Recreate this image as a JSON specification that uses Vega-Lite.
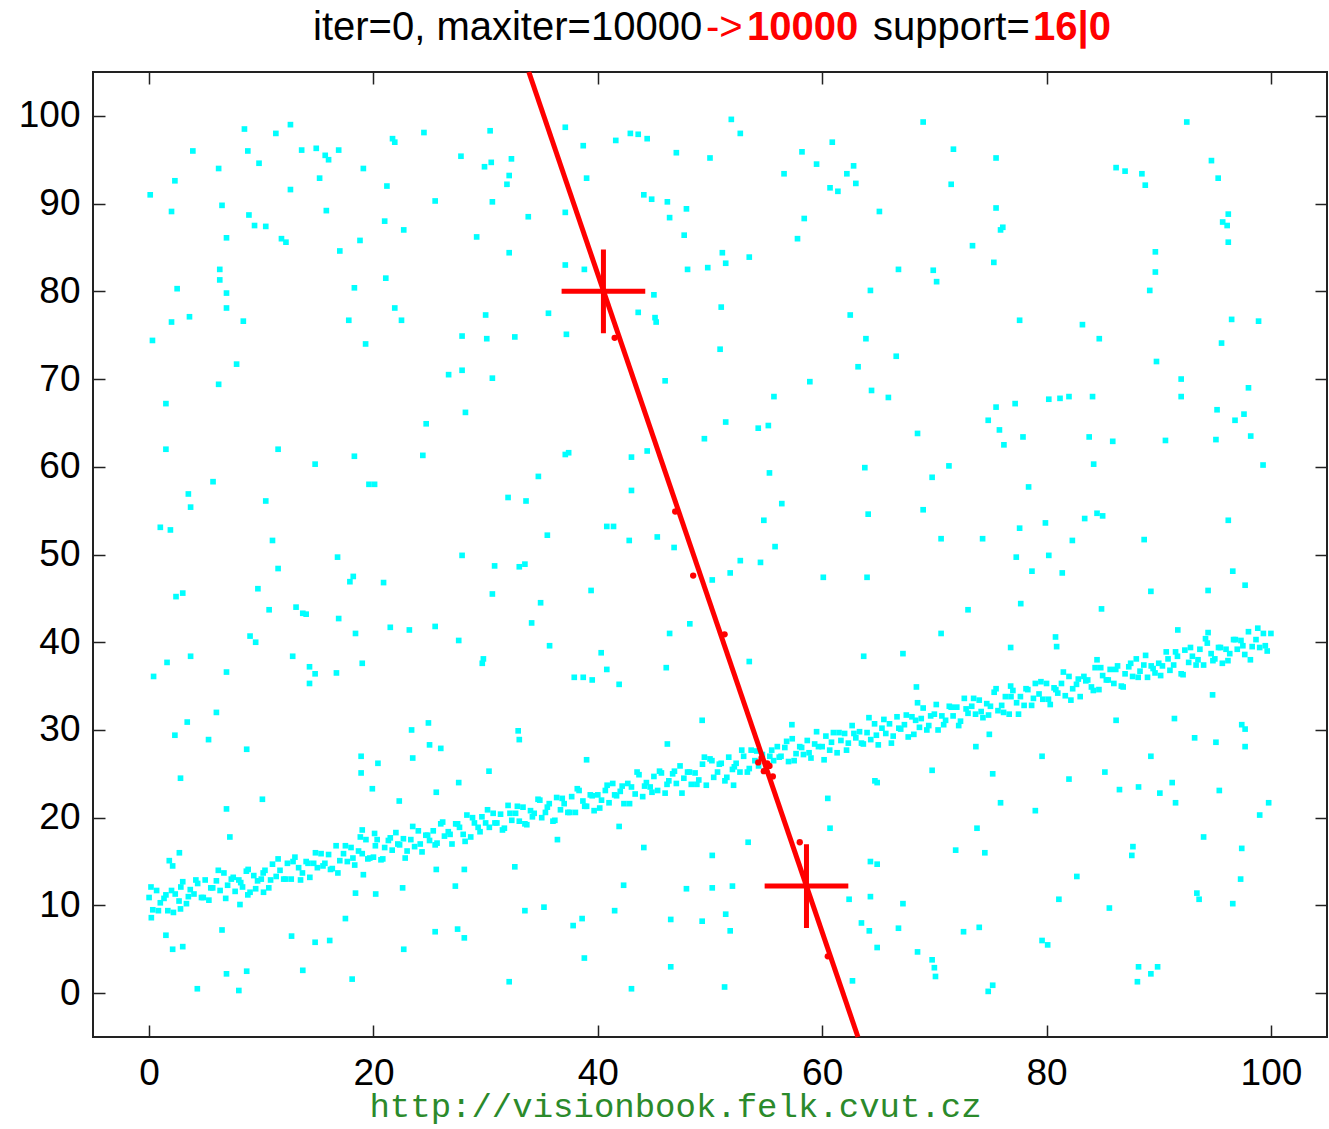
{
"$schema": "https://vega.github.io/schema/vega-lite/v6.json",
"width": 1234, "height": 965,
"autosize": {"type": "none"},
"padding": {"left": 93, "top": 72, "right": 2, "bottom": 92},
"background": "white",
"config": {"view": {"stroke": "#222", "strokeWidth": 2}},
"resolve": {"axis": {"x": "independent", "y": "independent"}},
"datasets": {
"pts": [
{"x":0,"y":10.9},{"x":0.33,"y":9.5},{"x":0.67,"y":11.7},{"x":1,"y":10.3},{"x":1.33,"y":10.8},{"x":1.67,"y":9.4},{"x":2,"y":11.7},{"x":2.33,"y":11.3},{"x":2.67,"y":10.5},{"x":3,"y":12.7},{"x":3.33,"y":10.2},{"x":3.67,"y":11.8},{"x":4,"y":11.3},{"x":4.33,"y":12.5},{"x":4.67,"y":10.9},{"x":5,"y":12.9},{"x":5.33,"y":10.6},{"x":5.67,"y":12.0},{"x":6,"y":12.8},{"x":6.33,"y":11.7},{"x":6.67,"y":13.7},{"x":7,"y":12.3},{"x":7.33,"y":13.0},{"x":7.67,"y":11.6},{"x":8,"y":12.9},{"x":8.33,"y":12.1},{"x":8.67,"y":13.9},{"x":9,"y":11.5},{"x":9.33,"y":13.4},{"x":9.67,"y":12.8},
{"x":10,"y":13.0},{"x":10.33,"y":14.0},{"x":10.67,"y":12.0},{"x":11,"y":14.7},{"x":11.33,"y":13.3},{"x":11.67,"y":14.0},{"x":12,"y":13.0},{"x":12.33,"y":14.8},{"x":12.67,"y":13.0},{"x":13,"y":15.5},{"x":13.33,"y":14.3},{"x":13.67,"y":13.7},{"x":14,"y":15.0},{"x":14.33,"y":13.2},{"x":14.67,"y":14.8},{"x":15,"y":14.3},{"x":15.33,"y":15.9},{"x":15.67,"y":14.8},{"x":16,"y":15.8},{"x":16.33,"y":14.2},{"x":16.67,"y":16.8},{"x":17,"y":15.1},{"x":17.33,"y":15.9},{"x":17.67,"y":15.0},{"x":18,"y":16.6},{"x":18.33,"y":14.6},{"x":18.67,"y":16.2},{"x":19,"y":15.9},{"x":19.33,"y":17.5},{"x":19.67,"y":15.4},
{"x":20,"y":15.5},{"x":20.33,"y":17.5},{"x":20.67,"y":15.2},{"x":21,"y":16.6},{"x":21.33,"y":17.4},{"x":21.67,"y":16.3},{"x":22,"y":18.3},{"x":22.33,"y":16.9},{"x":22.67,"y":17.6},{"x":23,"y":16.2},{"x":23.33,"y":17.5},{"x":23.67,"y":16.7},{"x":24,"y":18.5},{"x":24.33,"y":16.1},{"x":24.67,"y":18.0},{"x":25,"y":17.4},{"x":25.33,"y":18.5},{"x":25.67,"y":17.1},{"x":26,"y":19.3},{"x":26.33,"y":17.9},{"x":26.67,"y":18.4},{"x":27,"y":17.0},{"x":27.33,"y":19.3},{"x":27.67,"y":18.9},{"x":28,"y":18.1},{"x":28.33,"y":20.3},{"x":28.67,"y":17.8},{"x":29,"y":19.4},{"x":29.33,"y":18.9},{"x":29.67,"y":20.1},
{"x":30,"y":19.4},{"x":30.33,"y":18.9},{"x":30.67,"y":20.5},{"x":31,"y":19.4},{"x":31.33,"y":20.4},{"x":31.67,"y":18.8},{"x":32,"y":21.4},{"x":32.33,"y":19.7},{"x":32.67,"y":20.5},{"x":33,"y":19.6},{"x":33.33,"y":21.2},{"x":33.67,"y":19.2},{"x":34,"y":20.8},{"x":34.33,"y":20.5},{"x":34.67,"y":22.1},{"x":35,"y":20.0},{"x":35.33,"y":20.6},{"x":35.67,"y":21.6},{"x":36,"y":19.6},{"x":36.33,"y":22.3},{"x":36.67,"y":20.9},{"x":37,"y":21.6},{"x":37.33,"y":20.6},{"x":37.67,"y":22.4},{"x":38,"y":20.6},{"x":38.33,"y":23.1},{"x":38.67,"y":21.9},{"x":39,"y":21.3},{"x":39.33,"y":22.6},{"x":39.67,"y":20.8},
{"x":40,"y":22.6},{"x":40.33,"y":22.0},{"x":40.67,"y":23.1},{"x":41,"y":21.7},{"x":41.33,"y":23.9},{"x":41.67,"y":22.5},{"x":42,"y":23.0},{"x":42.33,"y":21.6},{"x":42.67,"y":23.9},{"x":43,"y":23.5},{"x":43.33,"y":22.7},{"x":43.67,"y":24.9},{"x":44,"y":22.4},{"x":44.33,"y":24.0},{"x":44.67,"y":23.5},{"x":45,"y":24.7},{"x":45.33,"y":23.1},{"x":45.67,"y":25.1},{"x":46,"y":22.8},{"x":46.33,"y":24.2},{"x":46.67,"y":25.0},{"x":47,"y":23.9},{"x":47.33,"y":25.9},{"x":47.67,"y":24.5},{"x":48,"y":25.2},{"x":48.33,"y":23.8},{"x":48.67,"y":25.1},{"x":49,"y":24.3},{"x":49.33,"y":26.1},{"x":49.67,"y":23.7},
{"x":50,"y":26.7},{"x":50.33,"y":24.6},{"x":50.67,"y":25.2},{"x":51,"y":26.2},{"x":51.33,"y":24.2},{"x":51.67,"y":26.9},{"x":52,"y":25.5},{"x":52.33,"y":26.2},{"x":52.67,"y":25.2},{"x":53,"y":27.0},{"x":53.33,"y":25.2},{"x":53.67,"y":27.7},{"x":54,"y":26.5},{"x":54.33,"y":25.9},{"x":54.67,"y":27.2},{"x":55,"y":25.4},{"x":55.33,"y":27.0},{"x":55.67,"y":26.5},{"x":56,"y":28.1},{"x":56.33,"y":27.0},{"x":56.67,"y":28.0},{"x":57,"y":26.4},{"x":57.33,"y":29.0},{"x":57.67,"y":27.3},{"x":58,"y":28.1},{"x":58.33,"y":27.2},{"x":58.67,"y":28.8},{"x":59,"y":26.8},{"x":59.33,"y":28.4},{"x":59.67,"y":28.1},
{"x":60,"y":28.1},{"x":60.33,"y":29.3},{"x":60.67,"y":27.7},{"x":61,"y":29.7},{"x":61.33,"y":27.4},{"x":61.67,"y":28.8},{"x":62,"y":29.6},{"x":62.33,"y":28.5},{"x":62.67,"y":30.5},{"x":63,"y":29.1},{"x":63.33,"y":29.8},{"x":63.67,"y":28.4},{"x":64,"y":29.7},{"x":64.33,"y":28.9},{"x":64.67,"y":30.7},{"x":65,"y":28.3},{"x":65.33,"y":30.2},{"x":65.67,"y":29.6},{"x":66,"y":30.7},{"x":66.33,"y":29.3},{"x":66.67,"y":31.5},{"x":67,"y":30.1},{"x":67.33,"y":30.6},{"x":67.67,"y":29.2},{"x":68,"y":31.5},{"x":68.33,"y":31.1},{"x":68.67,"y":30.3},{"x":69,"y":32.5},{"x":69.33,"y":30.0},{"x":69.67,"y":31.6},
{"x":70,"y":31.8},{"x":70.33,"y":30.0},{"x":70.67,"y":31.6},{"x":71,"y":31.1},{"x":71.33,"y":32.7},{"x":71.67,"y":31.6},{"x":72,"y":32.6},{"x":72.33,"y":31.0},{"x":72.67,"y":33.6},{"x":73,"y":31.9},{"x":73.33,"y":32.7},{"x":73.67,"y":31.8},{"x":74,"y":33.4},{"x":74.33,"y":31.4},{"x":74.67,"y":33.0},{"x":75,"y":32.7},{"x":75.33,"y":34.3},{"x":75.67,"y":32.2},{"x":76,"y":32.8},{"x":76.33,"y":33.8},{"x":76.67,"y":31.8},{"x":77,"y":34.5},{"x":77.33,"y":33.1},{"x":77.67,"y":33.8},{"x":78,"y":32.8},{"x":78.33,"y":34.6},{"x":78.67,"y":32.8},{"x":79,"y":35.3},{"x":79.33,"y":34.1},{"x":79.67,"y":33.5},
{"x":80,"y":35.3},{"x":80.33,"y":32.9},{"x":80.67,"y":34.8},{"x":81,"y":34.2},{"x":81.33,"y":35.3},{"x":81.67,"y":33.9},{"x":82,"y":36.1},{"x":82.33,"y":34.7},{"x":82.67,"y":35.2},{"x":83,"y":33.8},{"x":83.33,"y":36.1},{"x":83.67,"y":35.7},{"x":84,"y":34.9},{"x":84.33,"y":37.1},{"x":84.67,"y":34.6},{"x":85,"y":36.2},{"x":85.33,"y":35.7},{"x":85.67,"y":36.9},{"x":86,"y":35.3},{"x":86.33,"y":37.3},{"x":86.67,"y":35.0},{"x":87,"y":36.4},{"x":87.33,"y":37.2},{"x":87.67,"y":36.1},{"x":88,"y":38.1},{"x":88.33,"y":36.7},{"x":88.67,"y":37.4},{"x":89,"y":36.0},{"x":89.33,"y":37.3},{"x":89.67,"y":36.5},
{"x":90,"y":37.6},{"x":90.33,"y":37.3},{"x":90.67,"y":38.9},{"x":91,"y":36.8},{"x":91.33,"y":37.4},{"x":91.67,"y":38.4},{"x":92,"y":36.4},{"x":92.33,"y":39.1},{"x":92.67,"y":37.7},{"x":93,"y":38.4},{"x":93.33,"y":37.4},{"x":93.67,"y":39.2},{"x":94,"y":37.4},{"x":94.33,"y":39.9},{"x":94.67,"y":38.7},{"x":95,"y":38.1},{"x":95.33,"y":39.4},{"x":95.67,"y":37.6},{"x":96,"y":39.2},{"x":96.33,"y":38.7},{"x":96.67,"y":40.3},{"x":97,"y":39.2},{"x":97.33,"y":40.2},{"x":97.67,"y":38.6},{"x":98,"y":41.2},{"x":98.33,"y":39.5},{"x":98.67,"y":40.3},{"x":99,"y":39.4},{"x":99.33,"y":41.0},{"x":99.67,"y":39.0},{"x":100,"y":41.0},
{"x":0.17,"y":12.1},{"x":0.83,"y":9.4},{"x":1.5,"y":11.2},{"x":2.17,"y":9.2},{"x":2.83,"y":12.1},{"x":3.5,"y":11.0},{"x":4.17,"y":12.9},{"x":4.83,"y":10.9},{"x":5.5,"y":12.0},{"x":6.17,"y":14.0},{"x":6.83,"y":10.8},{"x":7.5,"y":13.2},{"x":8.17,"y":12.6},{"x":8.83,"y":14.1},{"x":9.5,"y":11.9},{"x":10.17,"y":13.7},{"x":10.83,"y":12.9},{"x":11.5,"y":15.3},{"x":12.17,"y":13.0},{"x":12.83,"y":15.0},{"x":13.5,"y":12.9},{"x":14.17,"y":14.8},{"x":14.83,"y":16.0},{"x":15.5,"y":14.5},{"x":16.17,"y":14.1},
{"x":16.83,"y":13.7},{"x":17.5,"y":16.8},{"x":18.17,"y":15.4},{"x":18.83,"y":17.8},{"x":19.5,"y":15.3},{"x":20.17,"y":16.8},{"x":20.83,"y":15.3},{"x":21.5,"y":17.7},{"x":22.17,"y":17.0},{"x":22.83,"y":15.4},{"x":23.5,"y":19.0},{"x":24.17,"y":17.0},{"x":24.83,"y":18.0},{"x":25.5,"y":16.9},{"x":26.17,"y":19.5},{"x":26.83,"y":18.1},{"x":27.5,"y":19.3},{"x":28.17,"y":17.3},{"x":28.83,"y":20.0},{"x":29.5,"y":18.4},{"x":30.17,"y":20.9},{"x":30.83,"y":19.4},{"x":31.5,"y":18.6},{"x":32.17,"y":20.5},{"x":32.83,"y":21.3},
{"x":33.5,"y":19.3},{"x":34.17,"y":20.1},{"x":34.83,"y":22.0},{"x":35.5,"y":21.2},{"x":36.17,"y":19.7},{"x":36.83,"y":22.2},{"x":37.5,"y":20.6},{"x":38.17,"y":23.3},{"x":38.83,"y":21.3},{"x":39.5,"y":22.5},{"x":40.17,"y":21.1},{"x":40.83,"y":23.7},{"x":41.5,"y":22.6},{"x":42.17,"y":23.6},{"x":42.83,"y":21.6},{"x":43.5,"y":25.2},{"x":44.17,"y":23.6},{"x":44.83,"y":22.9},{"x":45.5,"y":25.3},{"x":46.17,"y":23.8},{"x":46.83,"y":25.3},{"x":47.5,"y":22.8},{"x":48.17,"y":25.2},{"x":48.83,"y":23.8},{"x":49.5,"y":26.9},
{"x":50.17,"y":26.5},{"x":50.83,"y":26.1},{"x":51.5,"y":24.6},{"x":52.17,"y":25.8},{"x":52.83,"y":27.7},{"x":53.5,"y":25.6},{"x":54.17,"y":27.6},{"x":54.83,"y":25.3},{"x":55.5,"y":27.7},{"x":56.17,"y":26.9},{"x":56.83,"y":28.7},{"x":57.5,"y":26.5},{"x":58.17,"y":28.0},{"x":58.83,"y":27.4},{"x":59.5,"y":29.8},{"x":60.17,"y":26.6},{"x":60.83,"y":28.6},{"x":61.5,"y":29.7},{"x":62.17,"y":27.7},{"x":62.83,"y":29.6},{"x":63.5,"y":28.5},{"x":64.17,"y":31.4},{"x":64.83,"y":29.4},{"x":65.5,"y":31.2},{"x":66.17,"y":28.5},
{"x":66.83,"y":30.2},{"x":67.5,"y":31.7},{"x":68.17,"y":29.5},{"x":68.83,"y":31.3},{"x":69.5,"y":30.5},{"x":70.17,"y":32.9},{"x":70.83,"y":30.6},{"x":71.5,"y":32.6},{"x":72.17,"y":30.5},{"x":72.83,"y":32.4},{"x":73.5,"y":33.6},{"x":74.17,"y":32.1},{"x":74.83,"y":31.7},{"x":75.5,"y":34.7},{"x":76.17,"y":32.0},{"x":76.83,"y":33.8},{"x":77.5,"y":31.8},{"x":78.17,"y":34.7},{"x":78.83,"y":33.6},{"x":79.5,"y":35.5},{"x":80.17,"y":33.5},{"x":80.83,"y":34.6},{"x":81.5,"y":36.6},{"x":82.17,"y":33.4},{"x":82.83,"y":35.8},
{"x":83.5,"y":35.6},{"x":84.17,"y":34.5},{"x":84.83,"y":37.1},{"x":85.5,"y":35.7},{"x":86.17,"y":36.9},{"x":86.83,"y":34.9},{"x":87.5,"y":37.6},{"x":88.17,"y":36.0},{"x":88.83,"y":38.5},{"x":89.5,"y":37.0},{"x":90.17,"y":36.2},{"x":90.83,"y":38.1},{"x":91.5,"y":38.9},{"x":92.17,"y":36.3},{"x":92.83,"y":39.4},{"x":93.5,"y":38.0},{"x":94.17,"y":40.4},{"x":94.83,"y":37.9},{"x":95.5,"y":39.4},{"x":96.17,"y":37.9},{"x":96.83,"y":40.3},{"x":97.5,"y":39.6},{"x":98.17,"y":38.0},{"x":98.83,"y":41.6},{"x":99.5,"y":39.6},
{"x":8.5,"y":98.5},{"x":11.3,"y":98.0},{"x":12.6,"y":99.0},{"x":3.9,"y":96.0},{"x":8.8,"y":96.0},{"x":9.8,"y":94.6},{"x":13.6,"y":96.1},{"x":14.9,"y":96.3},{"x":15.7,"y":95.5},{"x":16.0,"y":95.0},{"x":16.9,"y":96.1},{"x":21.7,"y":97.4},{"x":21.9,"y":97.0},{"x":6.2,"y":94.0},{"x":19.1,"y":94.0},{"x":2.3,"y":92.6},{"x":15.2,"y":92.9},{"x":12.6,"y":91.6},{"x":21.2,"y":92.0},{"x":0.1,"y":91.0},{"x":2.0,"y":89.1},{"x":6.5,"y":89.8},{"x":8.9,"y":88.7},{"x":9.4,"y":87.5},{"x":10.4,"y":87.4},{"x":15.8,"y":89.2},{"x":6.9,"y":86.1},{"x":11.8,"y":86.0},{"x":12.2,"y":85.6},{"x":21.0,"y":88.0},{"x":18.8,"y":85.8},{"x":17.0,"y":84.6},{"x":22.7,"y":87.0},{"x":6.3,"y":82.5},{"x":6.3,"y":81.3},{"x":6.9,"y":79.8},{"x":6.9,"y":78.1},{"x":2.5,"y":80.3},{"x":3.6,"y":77.1},{"x":2.0,"y":76.5},{"x":8.4,"y":76.6},{"x":0.3,"y":74.4},{"x":7.8,"y":71.7},{"x":6.2,"y":69.4},{"x":18.3,"y":80.4},{"x":21.1,"y":81.5},{"x":21.9,"y":78.1},{"x":22.5,"y":76.7},{"x":17.8,"y":76.7},{"x":19.3,"y":74.0},
{"x":24.5,"y":98.1},{"x":30.4,"y":98.3},{"x":27.8,"y":95.4},{"x":29.9,"y":94.2},{"x":30.5,"y":94.7},{"x":32.3,"y":95.1},{"x":32.1,"y":93.2},{"x":31.9,"y":92.2},{"x":25.5,"y":90.3},{"x":30.6,"y":90.2},{"x":33.8,"y":88.5},{"x":29.2,"y":86.2},{"x":32.1,"y":84.4},{"x":37.1,"y":98.7},{"x":38.7,"y":96.6},{"x":39.0,"y":92.9},{"x":37.1,"y":89.0},{"x":37.1,"y":83.0},{"x":38.8,"y":82.5},{"x":41.6,"y":97.2},{"x":42.9,"y":98.0},{"x":43.6,"y":97.9},{"x":44.4,"y":97.4},{"x":47.0,"y":95.8},{"x":50.0,"y":95.2},{"x":44.1,"y":91.0},{"x":44.8,"y":90.5},{"x":46.2,"y":90.2},{"x":47.9,"y":89.4},{"x":46.4,"y":88.4},{"x":47.7,"y":86.4},{"x":48.0,"y":82.5},{"x":49.8,"y":82.7},{"x":45.0,"y":79.6},{"x":43.6,"y":77.6},{"x":45.1,"y":77.0},{"x":45.2,"y":76.5},{"x":30.0,"y":77.3},{"x":35.6,"y":77.5},{"x":27.9,"y":74.9},{"x":30.1,"y":74.6},{"x":32.6,"y":74.8},{"x":37.2,"y":75.1},{"x":26.7,"y":70.5},{"x":27.9,"y":71.0},{"x":30.6,"y":70.1},{"x":46.0,"y":69.8},
{"x":51.9,"y":99.6},{"x":52.7,"y":98.0},{"x":58.2,"y":95.9},{"x":60.9,"y":97.0},{"x":59.5,"y":94.5},{"x":56.6,"y":93.4},{"x":62.8,"y":94.3},{"x":62.2,"y":93.4},{"x":63.0,"y":92.3},{"x":60.7,"y":91.8},{"x":61.4,"y":91.4},{"x":69.0,"y":99.3},{"x":71.7,"y":96.2},{"x":75.5,"y":95.2},{"x":71.5,"y":92.2},{"x":65.1,"y":89.1},{"x":58.4,"y":88.3},{"x":57.8,"y":86.0},{"x":75.5,"y":89.5},{"x":76.1,"y":87.3},{"x":75.9,"y":87.0},{"x":73.4,"y":85.2},{"x":75.3,"y":83.3},{"x":51.1,"y":84.4},{"x":51.4,"y":83.2},{"x":53.5,"y":83.9},{"x":66.8,"y":82.5},{"x":69.9,"y":82.4},{"x":70.2,"y":81.1},{"x":64.3,"y":80.1},{"x":51.0,"y":78.2},{"x":62.5,"y":77.3},{"x":63.9,"y":74.6},{"x":66.6,"y":72.6},{"x":63.2,"y":71.4},{"x":50.9,"y":73.4},{"x":58.9,"y":69.7},{"x":77.6,"y":76.7},{"x":64.4,"y":68.7},
{"x":92.5,"y":99.3},{"x":94.7,"y":94.9},{"x":95.3,"y":92.9},{"x":86.2,"y":94.1},{"x":87.0,"y":93.7},{"x":88.5,"y":93.4},{"x":88.8,"y":92.1},{"x":96.2,"y":88.8},{"x":95.7,"y":87.9},{"x":96.1,"y":87.5},{"x":96.2,"y":85.6},{"x":89.7,"y":84.5},{"x":89.7,"y":82.2},{"x":89.2,"y":80.1},{"x":83.2,"y":76.2},{"x":84.7,"y":74.6},{"x":96.5,"y":76.8},{"x":98.9,"y":76.6},{"x":95.6,"y":74.1},{"x":89.8,"y":72.0},{"x":92.0,"y":70.0},{"x":98.0,"y":69.0},
{"x":1.5,"y":67.2},{"x":1.5,"y":62.0},{"x":11.5,"y":62.0},{"x":14.8,"y":60.3},{"x":18.3,"y":61.2},{"x":19.6,"y":58.0},{"x":20.1,"y":58.0},{"x":5.7,"y":58.3},{"x":3.5,"y":56.9},{"x":3.7,"y":55.4},{"x":10.4,"y":56.1},{"x":1.0,"y":53.1},{"x":1.9,"y":52.8},{"x":11.0,"y":51.6},{"x":16.8,"y":49.7},{"x":11.5,"y":48.4},{"x":18.2,"y":47.5},{"x":17.9,"y":46.9},{"x":20.9,"y":46.8},{"x":9.7,"y":46.1},{"x":2.4,"y":45.2},{"x":3.0,"y":45.6},{"x":10.7,"y":43.7},{"x":13.1,"y":44.0},{"x":13.7,"y":43.3},{"x":14.0,"y":43.2},{"x":16.9,"y":42.7},{"x":21.5,"y":41.7},{"x":18.4,"y":41.0},{"x":9.0,"y":40.7},{"x":9.5,"y":40.0},{"x":1.6,"y":37.7},{"x":3.7,"y":38.4},{"x":0.4,"y":36.1},{"x":6.9,"y":36.6},{"x":12.8,"y":38.4},{"x":14.3,"y":37.2},{"x":14.8,"y":36.4},{"x":14.3,"y":35.3},{"x":16.7,"y":36.5},{"x":19.0,"y":37.6},{"x":6.0,"y":32.0},
{"x":24.7,"y":64.9},{"x":28.2,"y":66.2},{"x":24.4,"y":61.3},{"x":37.1,"y":61.4},{"x":37.4,"y":61.6},{"x":43.0,"y":61.1},{"x":44.4,"y":61.8},{"x":34.7,"y":58.9},{"x":43.0,"y":57.3},{"x":32.0,"y":56.5},{"x":33.6,"y":56.1},{"x":49.5,"y":63.2},{"x":40.8,"y":53.2},{"x":41.4,"y":53.2},{"x":35.5,"y":52.2},{"x":42.8,"y":51.6},{"x":45.3,"y":52.0},{"x":46.8,"y":50.8},{"x":50.2,"y":47.1},{"x":27.9,"y":49.9},{"x":30.8,"y":48.7},{"x":33.0,"y":48.6},{"x":33.5,"y":48.9},{"x":39.4,"y":45.9},{"x":30.6,"y":45.5},{"x":34.9,"y":44.5},{"x":34.1,"y":42.2},{"x":23.2,"y":41.4},{"x":25.5,"y":41.8},{"x":27.6,"y":40.2},{"x":35.7,"y":39.6},{"x":29.8,"y":38.1},{"x":29.7,"y":37.6},{"x":40.3,"y":38.8},{"x":40.8,"y":36.9},{"x":37.9,"y":36.0},{"x":38.7,"y":36.0},{"x":39.5,"y":35.7},{"x":41.9,"y":35.2},{"x":46.4,"y":41.0},{"x":48.2,"y":42.1},{"x":46.1,"y":37.1},
{"x":55.7,"y":68.0},{"x":65.9,"y":67.9},{"x":51.4,"y":65.1},{"x":54.3,"y":64.4},{"x":55.2,"y":64.7},{"x":68.5,"y":63.8},{"x":75.5,"y":66.8},{"x":77.2,"y":67.2},{"x":74.8,"y":65.3},{"x":75.8,"y":64.2},{"x":76.2,"y":62.5},{"x":77.9,"y":63.4},{"x":55.3,"y":59.3},{"x":63.8,"y":59.9},{"x":71.3,"y":60.1},{"x":69.8,"y":58.8},{"x":56.4,"y":55.8},{"x":54.8,"y":53.9},{"x":64.1,"y":54.6},{"x":69.0,"y":55.1},{"x":77.6,"y":53.0},{"x":70.6,"y":51.8},{"x":74.3,"y":51.8},{"x":77.3,"y":49.7},{"x":55.8,"y":50.9},{"x":52.7,"y":49.3},{"x":54.5,"y":49.1},{"x":51.8,"y":47.9},{"x":60.1,"y":47.4},{"x":64.0,"y":47.4},{"x":77.7,"y":44.4},{"x":73.0,"y":43.7},{"x":70.6,"y":41.0},{"x":76.8,"y":39.4},{"x":53.5,"y":37.8},{"x":63.7,"y":38.4},{"x":67.2,"y":38.7},{"x":68.4,"y":34.9},{"x":76.8,"y":35.0},{"x":68.5,"y":33.1},
{"x":80.2,"y":67.7},{"x":81.2,"y":67.8},{"x":82.0,"y":68.0},{"x":84.1,"y":68.0},{"x":92.0,"y":68.0},{"x":95.2,"y":66.5},{"x":96.8,"y":65.3},{"x":97.6,"y":66.0},{"x":83.8,"y":63.4},{"x":85.9,"y":62.9},{"x":90.6,"y":63.0},{"x":95.1,"y":63.1},{"x":98.2,"y":63.5},{"x":84.2,"y":60.3},{"x":99.3,"y":60.2},{"x":78.4,"y":57.7},{"x":79.9,"y":53.6},{"x":83.4,"y":54.1},{"x":84.5,"y":54.7},{"x":85.0,"y":54.4},{"x":82.3,"y":51.6},{"x":88.7,"y":51.7},{"x":96.2,"y":53.9},{"x":80.2,"y":49.9},{"x":78.7,"y":48.1},{"x":81.4,"y":47.9},{"x":96.6,"y":48.1},{"x":97.7,"y":46.5},{"x":94.4,"y":45.9},{"x":89.3,"y":45.8},{"x":84.9,"y":43.8},{"x":91.7,"y":41.4},{"x":94.4,"y":41.1},{"x":80.8,"y":40.6},{"x":80.9,"y":39.5},{"x":84.5,"y":38.0},{"x":94.8,"y":34.0},
{"x":3.4,"y":30.9},{"x":2.3,"y":29.4},{"x":5.3,"y":28.9},{"x":8.7,"y":27.8},{"x":2.8,"y":24.5},{"x":10.1,"y":22.1},{"x":6.9,"y":21.0},{"x":7.2,"y":17.8},{"x":18.9,"y":27.0},{"x":18.9,"y":25.1},{"x":20.4,"y":26.2},{"x":19.9,"y":23.3},{"x":22.3,"y":21.9},{"x":19.0,"y":18.6},{"x":20.1,"y":18.2},{"x":1.8,"y":15.1},{"x":2.1,"y":14.5},{"x":2.7,"y":16.0},{"x":0.2,"y":8.6},{"x":1.5,"y":6.6},{"x":2.1,"y":5.0},{"x":3.0,"y":5.3},{"x":6.5,"y":7.2},{"x":6.9,"y":2.2},{"x":8.7,"y":2.5},{"x":4.3,"y":0.5},{"x":8.0,"y":0.3},{"x":8.1,"y":10.1},{"x":10.2,"y":11.5},{"x":8.8,"y":11.2},{"x":2.8,"y":9.6},{"x":12.7,"y":6.5},{"x":13.7,"y":2.6},{"x":14.8,"y":5.8},{"x":16.1,"y":6.0},{"x":17.5,"y":8.5},{"x":18.1,"y":1.6},{"x":18.4,"y":11.4},{"x":20.2,"y":11.3},{"x":19.1,"y":13.5},{"x":22.6,"y":12.0},{"x":22.7,"y":5.0},
{"x":23.4,"y":30.0},{"x":24.9,"y":30.8},{"x":25.0,"y":28.3},{"x":26.0,"y":27.9},{"x":23.5,"y":26.8},{"x":32.9,"y":29.9},{"x":33.0,"y":28.9},{"x":30.3,"y":25.3},{"x":27.6,"y":24.0},{"x":25.6,"y":22.9},{"x":39.0,"y":26.6},{"x":49.3,"y":31.1},{"x":46.2,"y":28.4},{"x":25.6,"y":14.1},{"x":28.1,"y":14.1},{"x":27.3,"y":12.2},{"x":32.6,"y":14.4},{"x":36.4,"y":17.5},{"x":41.9,"y":19.0},{"x":44.1,"y":16.6},{"x":33.5,"y":9.4},{"x":35.2,"y":9.8},{"x":25.5,"y":7.0},{"x":27.5,"y":7.3},{"x":28.1,"y":6.3},{"x":37.8,"y":7.7},{"x":38.6,"y":8.5},{"x":41.5,"y":9.4},{"x":42.3,"y":12.3},{"x":38.8,"y":4.0},{"x":32.1,"y":1.3},{"x":43.0,"y":0.5},{"x":46.5,"y":8.4},{"x":47.9,"y":11.9},{"x":46.5,"y":3.0},{"x":49.3,"y":8.2},{"x":50.2,"y":15.7},{"x":50.2,"y":12.0},
{"x":57.3,"y":30.6},{"x":73.7,"y":28.1},{"x":74.9,"y":29.5},{"x":69.8,"y":25.4},{"x":75.2,"y":25.0},{"x":64.7,"y":24.2},{"x":64.9,"y":24.0},{"x":52.1,"y":23.7},{"x":60.5,"y":22.2},{"x":75.9,"y":21.7},{"x":60.7,"y":18.8},{"x":73.8,"y":18.8},{"x":53.4,"y":17.2},{"x":71.9,"y":16.3},{"x":74.5,"y":16.0},{"x":64.3,"y":15.0},{"x":64.9,"y":14.7},{"x":52.0,"y":12.2},{"x":62.4,"y":10.7},{"x":64.3,"y":11.0},{"x":67.2,"y":10.2},{"x":51.4,"y":9.0},{"x":51.8,"y":7.1},{"x":63.5,"y":8.0},{"x":64.2,"y":7.1},{"x":66.8,"y":7.4},{"x":72.6,"y":7.0},{"x":74.0,"y":7.5},{"x":64.9,"y":5.2},{"x":68.5,"y":4.7},{"x":69.8,"y":3.8},{"x":70.0,"y":2.9},{"x":70.1,"y":1.9},{"x":51.3,"y":0.7},{"x":62.7,"y":1.4},{"x":75.2,"y":0.9},{"x":74.8,"y":0.2},
{"x":86.2,"y":31.1},{"x":91.4,"y":31.3},{"x":97.4,"y":30.6},{"x":97.7,"y":30.1},{"x":93.2,"y":29.1},{"x":95.1,"y":28.6},{"x":97.7,"y":28.1},{"x":79.6,"y":27.0},{"x":89.3,"y":27.0},{"x":82.0,"y":24.4},{"x":85.2,"y":25.2},{"x":86.5,"y":23.2},{"x":88.2,"y":23.5},{"x":90.1,"y":22.8},{"x":91.2,"y":24.0},{"x":91.5,"y":21.7},{"x":95.4,"y":23.1},{"x":99.8,"y":21.7},{"x":99.0,"y":20.3},{"x":79.0,"y":20.8},{"x":94.0,"y":17.8},{"x":97.4,"y":16.5},{"x":87.7,"y":16.7},{"x":87.6,"y":15.7},{"x":82.7,"y":13.3},{"x":97.3,"y":13.0},{"x":81.1,"y":10.7},{"x":85.6,"y":9.7},{"x":93.4,"y":11.4},{"x":93.6,"y":10.7},{"x":96.6,"y":10.2},{"x":79.6,"y":6.0},{"x":80.1,"y":5.5},{"x":88.2,"y":3.0},{"x":89.9,"y":3.0},{"x":89.3,"y":2.2},{"x":88.1,"y":1.3}
],
"sup": [
{"x":41.5,"y":74.7},{"x":46.9,"y":54.9},{"x":48.5,"y":47.6},{"x":51.3,"y":40.9},{"x":54.3,"y":26.3},{"x":55.1,"y":26.2},{"x":54.8,"y":25.3},{"x":55.6,"y":24.7},{"x":54.6,"y":26.8},{"x":55.3,"y":25.9},{"x":58.0,"y":17.2},{"x":60.5,"y":4.2},{"x":40.5,"y":80.0},{"x":58.6,"y":12.2}
],
"fit": [{"x":33.85,"y":105},{"x":63.19,"y":-5}],
"samples": [{"x":40.5,"y":80.0},{"x":58.6,"y":12.2}]
},
"layer": [
{"data": {"name": "pts"},
 "mark": {"type": "square", "color": "#00FFFF", "size": 32, "opacity": 1},
 "encoding": {
  "x": {"field": "x", "type": "quantitative", "scale": {"domain": [-5, 105], "nice": false, "zero": false},
        "axis": {"orient": "bottom", "values": [0,20,40,60,80,100], "labelFont": "Liberation Sans", "labelFontSize": 37, "labelColor": "#000", "labelFlush": false, "labelOverlap": false,
                 "tickSize": -12, "tickColor": "#222", "tickWidth": 1.5, "domain": false, "grid": false, "labelPadding": 30,
                 "title": "http://visionbook.felk.cvut.cz", "titleFont": "Liberation Mono", "titleFontSize": 34, "titleFontWeight": "normal", "titleColor": "#2b8a2b",
                 "titleX": 582, "titleY": 79, "titleAlign": "center", "titleBaseline": "alphabetic"}},
  "y": {"field": "y", "type": "quantitative", "scale": {"domain": [-5, 105], "nice": false, "zero": false},
        "axis": {"orient": "left", "values": [0,10,20,30,40,50,60,70,80,90,100], "labelFont": "Liberation Sans", "labelFontSize": 37, "labelColor": "#000", "labelFlush": false, "labelOverlap": false,
                 "tickSize": -12, "tickColor": "#222", "tickWidth": 1.5, "domain": false, "grid": false, "labelPadding": 25, "title": null}}
 }},
{"data": {"name": "fit"},
 "mark": {"type": "line", "color": "#FF0000", "strokeWidth": 5},
 "encoding": {"x": {"field": "x", "type": "quantitative", "axis": null}, "y": {"field": "y", "type": "quantitative", "axis": null}}},
{"data": {"name": "sup"},
 "mark": {"type": "circle", "color": "#FF0000", "size": 40, "opacity": 1},
 "encoding": {
  "x": {"field": "x", "type": "quantitative", "axis": {"orient": "top", "values": [0,20,40,60,80,100], "labels": false, "tickSize": -12, "tickColor": "#222", "tickWidth": 1.5, "domain": false, "grid": false, "title": null}},
  "y": {"field": "y", "type": "quantitative", "axis": {"orient": "right", "values": [0,10,20,30,40,50,60,70,80,90,100], "labels": false, "tickSize": -12, "tickColor": "#222", "tickWidth": 1.5, "domain": false, "grid": false, "title": null}}
 }},
{"data": {"name": "samples"},
 "mark": {"type": "point", "shape": "M-1,0L1,0M0,-1L0,1", "size": 7000, "stroke": "#FF0000", "strokeWidth": 5, "filled": false, "opacity": 1},
 "encoding": {"x": {"field": "x", "type": "quantitative", "axis": null}, "y": {"field": "y", "type": "quantitative", "axis": null}}},
{"data": {"values": [{"t": "iter=0, maxiter=10000"}]},
 "mark": {"type": "text", "font": "Liberation Sans", "fontSize": 40, "color": "#000", "align": "left", "baseline": "alphabetic", "dx": -397, "dy": -32},
 "encoding": {"text": {"field": "t"}, "x": {"datum": 50, "type": "quantitative", "axis": null}, "y": {"datum": 105, "type": "quantitative", "axis": null}}},
{"data": {"values": [{"t": "->"}]},
 "mark": {"type": "text", "font": "Liberation Sans", "fontSize": 40, "color": "#FF0000", "align": "left", "baseline": "alphabetic", "dx": -4, "dy": -32},
 "encoding": {"text": {"field": "t"}, "x": {"datum": 50, "type": "quantitative", "axis": null}, "y": {"datum": 105, "type": "quantitative", "axis": null}}},
{"data": {"values": [{"t": "10000"}]},
 "mark": {"type": "text", "font": "Liberation Sans", "fontSize": 40, "fontWeight": "bold", "color": "#FF0000", "align": "left", "baseline": "alphabetic", "dx": 37, "dy": -32},
 "encoding": {"text": {"field": "t"}, "x": {"datum": 50, "type": "quantitative", "axis": null}, "y": {"datum": 105, "type": "quantitative", "axis": null}}},
{"data": {"values": [{"t": "support="}]},
 "mark": {"type": "text", "font": "Liberation Sans", "fontSize": 40, "color": "#000", "align": "left", "baseline": "alphabetic", "dx": 163, "dy": -32},
 "encoding": {"text": {"field": "t"}, "x": {"datum": 50, "type": "quantitative", "axis": null}, "y": {"datum": 105, "type": "quantitative", "axis": null}}},
{"data": {"values": [{"t": "16|0"}]},
 "mark": {"type": "text", "font": "Liberation Sans", "fontSize": 40, "fontWeight": "bold", "color": "#FF0000", "align": "left", "baseline": "alphabetic", "dx": 323, "dy": -32},
 "encoding": {"text": {"field": "t"}, "x": {"datum": 50, "type": "quantitative", "axis": null}, "y": {"datum": 105, "type": "quantitative", "axis": null}}}
]
}
